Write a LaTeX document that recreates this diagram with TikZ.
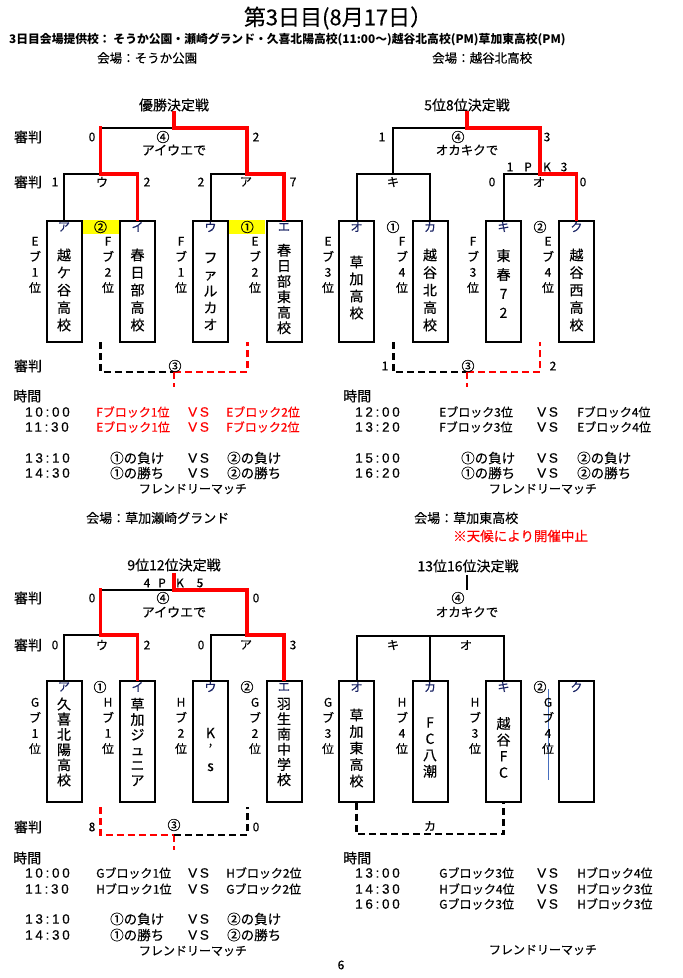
\documentclass[tikz,border=0pt]{standalone}
\usepackage{fontspec}
\setmainfont{Noto Sans CJK JP}[UprightFeatures={FakeBold=0.35}]
\newfontfamily\latsp[LetterSpace=20,FakeBold=0.3]{Liberation Sans}
\newcommand\myfs[1]{\fontsize{#1}{#1}\selectfont}
\definecolor{nv}{RGB}{25,35,100}
\definecolor{rr}{RGB}{255,0,0}
\definecolor{yy}{RGB}{255,255,0}
\definecolor{bl}{RGB}{70,110,190}
\begin{document}
\begin{tikzpicture}[x=1pt,y=-1pt,
  t/.style={inner sep=0pt, font=\myfs{12}},
  tb/.style={inner sep=0pt, font=\myfs{14}},
  tc/.style={inner sep=0pt, font=\myfs{13}},
  lt/.style={inner sep=0pt, font=\myfs{12}, text=nv},
  nm/.style={align=center, inner sep=0pt, font=\fontsize{14}{#1}\selectfont},
  sl/.style={align=center, inner sep=0pt, font=\fontsize{12}{15.5}\selectfont},
  tbox/.style={draw, line width=2pt, minimum width=35pt, minimum height=121pt, inner sep=0pt},
  bk/.style={line width=2pt, black},
  rd/.style={line width=3.8pt, rr, line cap=rect},
  dbk/.style={line width=2.5pt, black, dash pattern=on 7pt off 4pt},
  drd/.style={line width=2.5pt, rr, dash pattern=on 7pt off 4pt},
  tm/.style={inner sep=0pt, anchor=west, font=\latsp\myfs{13.5}},
  sw/.style={inner sep=0pt, anchor=west, font=\myfs{12}},
  sv/.style={inner sep=0pt, anchor=west, font=\myfs{13.5}},
]
\useasboundingbox (0,0) rectangle (683,978);
\fill[white] (0,0) rectangle (683,978);

% ---------- header ----------
\node[inner sep=0pt, font=\myfs{22}] (title) at (338,18) {第3日目(8月17日）};
\node[inner sep=0pt, anchor=west, font=\bfseries\myfs{11.8}] (sub) at (9,40) {3日目会場提供校： そうか公園・瀬崎グランド・久喜北陽高校(11:00～)越谷北高校(PM)草加東高校(PM)};
\node[inner sep=0pt, anchor=west, font=\myfs{12.5}] (v1) at (97,58) {会場：そうか公園};
\node[inner sep=0pt, anchor=west, font=\myfs{12.5}] (v2) at (432,58) {会場：越谷北高校};

% ---------- yellow marks ----------
\fill[yy] (82,220) rectangle (119,234);
\fill[yy] (229,220) rectangle (265,234);

% ---------- boxes ----------
\foreach \n/\x in {b1/64,b2/137.5,b3/210.5,b4/284,b5/356.5,b6/430,b7/503.5,b8/576.5}
  \node[tbox] (\n) at (\x,281) {};
\foreach \n/\x in {c1/64,c2/137.5,c3/210.5,c4/284,c5/356.5,c6/430,c7/503.5,c8/576.5}
  \node[tbox] (\n) at (\x,741) {};

% ---------- coordinates ----------
\coordinate (tl-s) at (174,113); \coordinate (tl-f) at (174,128);
\coordinate (tl-q1) at (100.5,174); \coordinate (tl-q2) at (247.25,174);
\coordinate (tr-s) at (466.75,113); \coordinate (tr-f) at (466.75,128);
\coordinate (tr-q1) at (393.25,174); \coordinate (tr-q2) at (540,174);
\coordinate (bl-s) at (174,575); \coordinate (bl-f) at (174,590);
\coordinate (bl-q1) at (100.5,635); \coordinate (bl-q2) at (247.25,635);
\coordinate (br-s) at (466.75,575); \coordinate (br-f) at (466.75,590);
\coordinate (br-q) at (430,636);

% ---------- top-left bracket ----------
\draw[bk] (b1.north) |- (tl-q1) -| (b2.north);
\draw[bk] (b3.north) |- (tl-q2) -| (b4.north);
\draw[bk] (tl-q1) |- (tl-f) -| (tl-q2);
\draw[rd] (tl-s) -- (tl-f) -| (tl-q2) -| (b4.north);
\draw[rd] (tl-q1 |- tl-f) -- (tl-q1) -| (b2.north);

% ---------- top-right bracket ----------
\draw[bk] (b5.north) |- (tr-q1) -| (b6.north);
\draw[bk] (b7.north) |- (tr-q2) -| (b8.north);
\draw[bk] (tr-q1) |- (tr-f) -| (tr-q2);
\draw[rd] (tr-s) -- (tr-f) -| (tr-q2) -| (b8.north);

% ---------- bottom-left bracket ----------
\draw[bk] (c1.north) |- (bl-q1) -| (c2.north);
\draw[bk] (c3.north) |- (bl-q2) -| (c4.north);
\draw[bk] (bl-q1) |- (bl-f) -| (bl-q2);
\draw[rd] (bl-s) -- (bl-f) -| (bl-q2) -| (c4.north);
\draw[rd] (bl-q1 |- bl-f) -- (bl-q1) -| (c2.north);

% ---------- bottom-right bracket ----------
\draw[bk] (br-s) -- (br-f);
\draw[bk] (c5.north) |- (br-q) -| (c7.north);
\draw[bk] (c6.north) -- (c6.north |- br-q);

% ---------- dashed third-place lines ----------
\coordinate (tl-d1) at (100.5,342); \coordinate (tl-d2) at (247.25,342);
\coordinate (tl-dm) at (174,372); \coordinate (tl-dd) at (174,387);
\draw[dbk] (tl-d1) |- (tl-dm);
\draw[drd] (tl-dm) -| (tl-d2);
\draw[drd] (tl-dm) -- (tl-dd);
\coordinate (tr-d1) at (393.25,342); \coordinate (tr-d2) at (540,342);
\coordinate (tr-dm) at (466.75,372); \coordinate (tr-dd) at (466.75,387);
\draw[dbk] (tr-d1) |- (tr-dm);
\draw[drd] (tr-dm) -| (tr-d2);
\draw[drd] (tr-dm) -- (tr-dd);
\coordinate (bl-d1) at (100.5,807); \coordinate (bl-d2) at (247.25,807);
\coordinate (bl-dm) at (174,835); \coordinate (bl-dd) at (174,850);
\draw[drd] (bl-d1) |- (bl-dm);
\draw[drd] (bl-dm) -- (bl-dd);
\draw[dbk] (bl-dm) -| (bl-d2);
\coordinate (br-dm) at (430,834);
\draw[dbk] (c5.south) |- (br-dm) -| (c7.south);

% blue guide line
\coordinate (bg1) at (548,689); \coordinate (bg2) at (548,780);
\draw[bl, line width=0.8pt] (bg1) -- (bg2);

% ---------- box letters ----------
\foreach \n/\x/\c in {l1/64/ア,l2/137.5/イ,l3/210.5/ウ,l4/284/エ,l5/356.5/オ,l6/430/カ,l7/503.5/キ,l8/576.5/ク}
  \node[lt] (\n) at (\x,227) {\c};
\foreach \n/\x/\c in {k1/64/ア,k2/137.5/イ,k3/210.5/ウ,k4/284/エ,k5/356.5/オ,k6/430/カ,k7/503.5/キ,k8/576.5/ク}
  \node[lt] (\n) at (\x,687) {\c};

% ---------- team names ----------
\node[nm=17.5] (n1) at (64,290) {越\\ケ\\谷\\高\\校};
\node[nm=17.5] (n2) at (137.5,290) {春\\日\\部\\高\\校};
\node[nm=16.75] (n3) at (210.5,291.5) {フ\\ァ\\ル\\カ\\オ};
\node[nm=15.5] (n4) at (284,289) {春\\日\\部\\東\\高\\校};
\node[nm=17] (n5) at (356.5,287.5) {草\\加\\高\\校};
\node[nm=17.5] (n6) at (430,290) {越\\谷\\北\\高\\校};
\node[nm=19] (n7) at (503.5,283.5) {東\\春\\7\\2};
\node[nm=17.5] (n8) at (576.5,290) {越\\谷\\西\\高\\校};
\node[nm=15.2] (m1) at (64,742) {久\\喜\\北\\陽\\高\\校};
\node[nm=15.2] (m2) at (137.5,742) {草\\加\\ジ\\ュ\\ニ\\ア};
\node[nm=16.5] (m3) at (210.5,749.5) {K\\’\\s};
\node[nm=15.2] (m4) at (284,742) {羽\\生\\南\\中\\学\\校};
\node[nm=16.5] (m5) at (356.5,748) {草\\加\\東\\高\\校};
\node[nm=16.3] (m6) at (430,747.5) {F\\C\\八\\潮};
\node[nm=16.3] (m7) at (503.5,747.5) {越\\谷\\F\\C};

% ---------- side labels ----------
\node[sl] (p1) at (35,265) {E\\ブ\\1\\位};
\node[sl] (p2) at (108,265) {F\\ブ\\2\\位};
\node[sl] (p3) at (181,265) {F\\ブ\\1\\位};
\node[sl] (p4) at (255,265) {E\\ブ\\2\\位};
\node[sl] (p5) at (328,265) {E\\ブ\\3\\位};
\node[sl] (p6) at (402,265) {F\\ブ\\4\\位};
\node[sl] (p7) at (473,265) {F\\ブ\\3\\位};
\node[sl] (p8) at (548,265) {E\\ブ\\4\\位};
\node[sl] (r1) at (35,726) {G\\ブ\\1\\位};
\node[sl] (r2) at (108,726) {H\\ブ\\1\\位};
\node[sl] (r3) at (181,726) {H\\ブ\\2\\位};
\node[sl] (r4) at (255,726) {G\\ブ\\2\\位};
\node[sl] (r5) at (328,726) {G\\ブ\\3\\位};
\node[sl] (r6) at (402,726) {H\\ブ\\4\\位};
\node[sl] (r7) at (475,726) {H\\ブ\\3\\位};
\node[sl] (r8) at (548,726) {G\\ブ\\4\\位};

% circled numbers near boxes
\node[tc] (o1) at (100.5,227) {②};
\node[tc] (o2) at (247.25,227) {①};
\node[tc] (o3) at (393,227) {①};
\node[tc] (o4) at (540,227) {②};
\node[tc] (o5) at (100,687) {①};
\node[tc] (o6) at (247,687) {②};
\node[tc] (o7) at (540,687) {②};

% ---------- top-left texts ----------
\node[tb] (h1) at (174,105) {優勝決定戦};
\node[tb] (j1) at (28,137) {審判};
\node[t] (s1) at (92,137) {0};
\node[tc] (f1) at (163,137) {④};
\node[t] (s2) at (256,137) {2};
\node[tc] (w1) at (174,150) {アイウエで};
\node[tb] (j2) at (28,182) {審判};
\node[t] (s3) at (55,182) {1};
\node[t] (g1) at (102,182) {ウ};
\node[t] (s4) at (147,182) {2};
\node[t] (s5) at (201,182) {2};
\node[t] (g2) at (246,182) {ア};
\node[t] (s6) at (293,182) {7};
\node[tb] (j3) at (28,366) {審判};
\node[tc] (e1) at (175,366) {③};

% ---------- top-right texts ----------
\node[tb] (h2) at (467,105) {5位8位決定戦};
\node[t] (s7) at (382,137) {1};
\node[tc] (f2) at (458,137) {④};
\node[t] (s8) at (547,137) {3};
\node[inner sep=0pt, font=\myfs{12.5}] (w2) at (467,150) {オカキクで};
\node[t] (pk1) at (510,167) {1};
\node[t] (pk2) at (528,167) {P};
\node[t] (pk3) at (547,167) {K};
\node[t] (pk4) at (564,167) {3};
\node[t] (g3) at (393,182) {キ};
\node[t] (s9) at (492,182) {0};
\node[t] (g4) at (539,182) {オ};
\node[t] (s10) at (583,182) {0};
\node[t] (s11) at (385,366) {1};
\node[tc] (e2) at (468,366) {③};
\node[t] (s12) at (553,366) {2};

% ---------- top schedules ----------
\node[inner sep=0pt, anchor=west, font=\myfs{14}] (tt1) at (13,396) {時間};
\node[tm] (a1) at (25,412) {10:00};
\node[tm] (a2) at (25,427) {11:30};
\node[tm] (a3) at (25,458) {13:10};
\node[tm] (a4) at (25,473) {14:30};
\node[sw, text=rr] (a5) at (96,412) {Fブロック1位};
\node[tm, text=rr] (a6) at (188,412) {VS};
\node[sw, text=rr] (a7) at (226,412) {Eブロック2位};
\node[sw, text=rr] (a8) at (96,427) {Eブロック1位};
\node[tm, text=rr] (a9) at (188,427) {VS};
\node[sw, text=rr] (a10) at (226,427) {Fブロック2位};
\node[sv] (a11) at (110,458) {①の負け};
\node[tm] (a12) at (188,458) {VS};
\node[sv] (a13) at (227,458) {②の負け};
\node[sv] (a14) at (110,473) {①の勝ち};
\node[tm] (a15) at (188,473) {VS};
\node[sv] (a16) at (227,473) {②の勝ち};
\node[t] (a17) at (193,489) {フレンドリーマッチ};
\node[inner sep=0pt, anchor=west, font=\myfs{13}] (a18) at (86,518) {会場：草加瀬崎グランド};

\node[inner sep=0pt, anchor=west, font=\myfs{14}] (tt2) at (343,396) {時間};
\node[tm] (b21) at (355,412) {12:00};
\node[tm] (b22) at (355,427) {13:20};
\node[tm] (b23) at (355,458) {15:00};
\node[tm] (b24) at (355,473) {16:20};
\node[sw] (b25) at (439,412) {Eブロック3位};
\node[tm] (b26) at (537,412) {VS};
\node[sw] (b27) at (577,412) {Fブロック4位};
\node[sw] (b28) at (439,427) {Fブロック3位};
\node[tm] (b29) at (537,427) {VS};
\node[sw] (b30) at (577,427) {Eブロック4位};
\node[sv] (b31) at (461,458) {①の負け};
\node[tm] (b32) at (537,458) {VS};
\node[sv] (b33) at (577,458) {②の負け};
\node[sv] (b34) at (461,473) {①の勝ち};
\node[tm] (b35) at (537,473) {VS};
\node[sv] (b36) at (577,473) {②の勝ち};
\node[t] (b37) at (543,489) {フレンドリーマッチ};
\node[inner sep=0pt, anchor=west, font=\myfs{13}] (b38) at (414,518) {会場：草加東高校};
\node[inner sep=0pt, anchor=west, font=\myfs{13.5}, text=rr] (b39) at (453,536) {※天候により開催中止};

% ---------- bottom-left texts ----------
\node[tb] (h3) at (174,565) {9位12位決定戦};
\node[t] (pk5) at (147,583) {4};
\node[t] (pk6) at (162,583) {P};
\node[t] (pk7) at (180,583) {K};
\node[t] (pk8) at (200,583) {5};
\node[tb] (j4) at (28,598) {審判};
\node[t] (u1) at (92,598) {0};
\node[tc] (f3) at (163,598) {④};
\node[t] (u2) at (256,598) {0};
\node[tc] (w3) at (174,612) {アイウエで};
\node[tb] (j5) at (28,645) {審判};
\node[t] (u3) at (55,645) {0};
\node[t] (g5) at (102,645) {ウ};
\node[t] (u4) at (147,645) {2};
\node[t] (u5) at (201,645) {0};
\node[t] (g6) at (246,645) {ア};
\node[t] (u6) at (293,645) {3};
\node[tb] (j6) at (28,827) {審判};
\node[t] (u7) at (92,827) {8};
\node[tc] (e3) at (174,825) {③};
\node[t] (u8) at (256,827) {0};

% ---------- bottom-right texts ----------
\node[tb] (h4) at (468,566) {13位16位決定戦};
\node[tc] (f4) at (458,598) {④};
\node[inner sep=0pt, font=\myfs{12.5}] (w4) at (467,612) {オカキクで};
\node[t] (g7) at (393,645) {キ};
\node[t] (g8) at (466,645) {オ};
\node[t] (g9) at (430,826) {カ};

% ---------- bottom schedules ----------
\node[inner sep=0pt, anchor=west, font=\myfs{14}] (tt3) at (13,858) {時間};
\node[tm] (d1) at (25,873) {10:00};
\node[tm] (d2) at (25,889) {11:30};
\node[tm] (d3) at (25,919) {13:10};
\node[tm] (d4) at (25,935) {14:30};
\node[sw] (d5) at (96,873) {Gブロック1位};
\node[tm] (d6) at (188,873) {VS};
\node[sw] (d7) at (226,873) {Hブロック2位};
\node[sw] (d8) at (96,889) {Hブロック1位};
\node[tm] (d9) at (188,889) {VS};
\node[sw] (d10) at (226,889) {Gブロック2位};
\node[sv] (d11) at (110,919) {①の負け};
\node[tm] (d12) at (188,919) {VS};
\node[sv] (d13) at (227,919) {②の負け};
\node[sv] (d14) at (110,935) {①の勝ち};
\node[tm] (d15) at (188,935) {VS};
\node[sv] (d16) at (227,935) {②の勝ち};
\node[t] (d17) at (193,951) {フレンドリーマッチ};

\node[inner sep=0pt, anchor=west, font=\myfs{14}] (tt4) at (343,858) {時間};
\node[tm] (e21) at (355,873) {13:00};
\node[tm] (e22) at (355,889) {14:30};
\node[tm] (e23) at (355,904) {16:00};
\node[sw] (e24) at (439,873) {Gブロック3位};
\node[tm] (e25) at (537,873) {VS};
\node[sw] (e26) at (577,873) {Hブロック4位};
\node[sw] (e27) at (439,889) {Hブロック4位};
\node[tm] (e28) at (537,889) {VS};
\node[sw] (e29) at (577,889) {Hブロック3位};
\node[sw] (e30) at (439,904) {Gブロック3位};
\node[tm] (e31) at (537,904) {VS};
\node[sw] (e32) at (577,904) {Hブロック3位};
\node[t] (e33) at (543,950) {フレンドリーマッチ};

\node[t] (pg) at (341,965) {6};
\end{tikzpicture}
\end{document}
